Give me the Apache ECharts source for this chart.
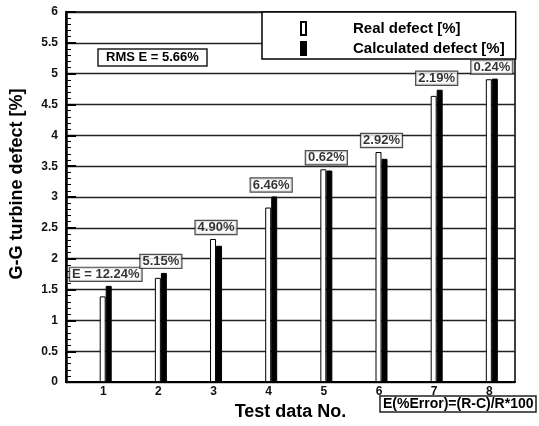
<!DOCTYPE html>
<html>
<head>
<meta charset="utf-8">
<script src="https://cdn.jsdelivr.net/npm/echarts@6/dist/echarts.min.js"></script>
<style>
  html, body { margin: 0; padding: 0; background: #fff; }
  #chart { width: 539px; height: 426px; }
</style>
</head>
<body>
<div id="chart"></div>
<script>
const categories = [1, 2, 3, 4, 5, 6, 7, 8];
const realDefect = [1.39, 1.69, 2.32, 2.83, 3.45, 3.73, 4.64, 4.91];
const calcDefect = [1.56, 1.77, 2.21, 3.01, 3.43, 3.62, 4.74, 4.92];
const errorLabels = ['E = 12.24%', '5.15%', '4.90%', '6.46%', '0.62%', '2.92%', '2.19%', '0.24%'];
const rmsText = 'RMS E = 5.66%';
const formulaText = 'E(%Error)=(R-C)/R*100';
const seriesNames = ['Real defect [%]', 'Calculated defect [%]'];

const FONT = '"Liberation Sans", Arial, sans-serif';
const chart = echarts.init(document.getElementById('chart'), null, { renderer: 'canvas' });

const option = {
  backgroundColor: '#fff',
  animation: false,
  textStyle: { fontFamily: FONT, color: '#000' },
  grid: {
    left: 64, right: 24, top: 12, bottom: 37,
    show: true, borderColor: '#000', borderWidth: 1.5, backgroundColor: 'transparent'
  },
  title: [
    {
      text: rmsText, left: 98, top: 49,
      padding: [2, 8, 2, 8], borderColor: '#222', borderWidth: 1.5, backgroundColor: '#fff',
      textStyle: { fontFamily: FONT, fontSize: 13, fontWeight: 'bold', color: '#000' }
    },
    {
      text: formulaText, left: 380, top: 396,
      padding: [1, 3, 1, 3], borderColor: '#222', borderWidth: 1.5, backgroundColor: '#fff',
      textStyle: { fontFamily: FONT, fontSize: 14, fontWeight: 'bold', color: '#000' }
    }
  ],
  legend: {
    data: seriesNames,
    orient: 'vertical',
    left: 262, top: 12,
    padding: [9, 11, 3, 38],
    itemGap: 5,
    itemWidth: 5, itemHeight: 13,
    icon: 'rect',
    borderColor: '#000', borderWidth: 1.5, backgroundColor: '#fff',
    textStyle: { fontFamily: FONT, fontSize: 15, fontWeight: 'bold', color: '#000', padding: [0, 0, 0, 42] }
  },
  xAxis: {
    type: 'value',
    min: 0.28, max: 8.42,
    name: 'Test data No.',
    nameLocation: 'middle',
    nameGap: 11,
    nameTextStyle: { fontFamily: FONT, fontSize: 18, fontWeight: 'bold', color: '#000', verticalAlign: 'top' },
    axisLine: { show: true, lineStyle: { color: '#000', width: 2 } },
    axisTick: { show: false },
    splitLine: { show: false },
    axisLabel: {
      customValues: categories,
      margin: 4,
      fontFamily: FONT, fontSize: 12, fontWeight: 'bold', color: '#111',
      padding: [0, 5, 0, 0]
    }
  },
  yAxis: {
    type: 'value',
    min: 0, max: 6, interval: 0.5,
    name: 'G-G turbine defect [%]',
    nameLocation: 'middle',
    nameGap: 40,
    nameTextStyle: { fontFamily: FONT, fontSize: 18, fontWeight: 'bold', color: '#000', padding: [0, 0, 0, 26] },
    axisLine: { show: true, lineStyle: { color: '#000', width: 2.5 } },
    axisTick: { show: true, inside: true, length: 10, lineStyle: { color: '#000', width: 2 } },
    minorTick: { show: true, splitNumber: 5, length: 5, lineStyle: { color: '#000', width: 1 } },
    splitLine: { show: true, lineStyle: { color: '#222', width: 1.3 } },
    axisLabel: { margin: 8, fontFamily: FONT, fontSize: 12, fontWeight: 'bold', color: '#111' }
  },
  series: [
    {
      name: seriesNames[0],
      type: 'bar',
      barWidth: 6,
      barGap: '0%',
      data: categories.map((c, i) => [c, realDefect[i]]),
      itemStyle: { color: '#fff', borderColor: '#000', borderWidth: 1 }
    },
    {
      name: seriesNames[1],
      type: 'bar',
      barWidth: 6,
      barGap: '0%',
      data: categories.map((c, i) => [c, calcDefect[i]]),
      itemStyle: { color: '#000', borderColor: '#000', borderWidth: 1 }
    },
    {
      name: 'errors',
      type: 'scatter',
      symbolSize: 0,
      silent: true,
      z: 5,
      data: categories.map((c, i) => [c, Math.max(realDefect[i], calcDefect[i])]),
      label: {
        show: true,
        position: 'top',
        distance: 5,
        formatter: p => errorLabels[p.dataIndex],
        fontFamily: FONT, fontSize: 13, fontWeight: 'bold', color: '#000',
        backgroundColor: '#fff', borderColor: '#222', borderWidth: 1.2,
        padding: [0, 2, 0, 2]
      }
    }
  ]
};
chart.setOption(option);
</script>
</body>
</html>
